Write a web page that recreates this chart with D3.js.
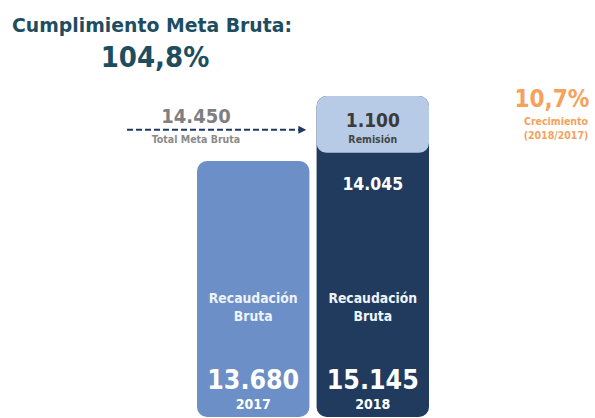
<!DOCTYPE html>
<html><head><meta charset="utf-8">
<script src="https://cdn.jsdelivr.net/npm/d3@7"></script>
<style>body{margin:0;background:#fff}svg{display:block}text{font-family:"DejaVu Sans Condensed","DejaVu Sans",sans-serif;font-stretch:condensed;font-weight:700}</style>
</head><body>
<svg id="c" width="595" height="418"></svg>
<script>
const years = ["2017", "2018"];
const recaudacion = [13680, 14045];
const remision = [0, 1100];
const totalBruta = [13680, 15145];
const metaBruta = 14450;
const cumplimiento = "104,8%";
const crecimiento = "10,7%";

const loc = d3.formatLocale({decimal: ",", thousands: ".", grouping: [3], currency: ["", ""]});
const fmt = loc.format(",d");

const svg = d3.select("#c");
const x = d3.scaleBand().domain(years).range([197, 429]).paddingInner(0.06).paddingOuter(0);
const y = d3.scaleLinear().domain([7933, 15145]).range([416, 96]);
const bottom = 417;
const bw = x.bandwidth();

// title
svg.append("text").attr("x", 12).attr("y", 32).attr("font-size", 20).attr("fill", "#1e4d60")
  .attr("textLength", 280).attr("lengthAdjust", "spacingAndGlyphs").text("Cumplimiento Meta Bruta:");
svg.append("text").attr("x", 155).attr("y", 67).attr("text-anchor", "middle").attr("font-size", 29).attr("fill", "#1e4d60")
  .text(cumplimiento);

// bars
const colors = ["#6b8fc6", "#213b5e"];
years.forEach((yr, i) => {
  svg.append("rect").attr("x", x(yr)).attr("y", y(totalBruta[i])).attr("width", bw)
    .attr("height", bottom - y(totalBruta[i])).attr("rx", 10).attr("fill", colors[i]);
});
// remision box
const yr18 = years[1];
svg.append("rect").attr("x", x(yr18)).attr("y", y(totalBruta[1])).attr("width", bw)
  .attr("height", y(recaudacion[1]) - y(totalBruta[1]) + 8).attr("rx", 10).attr("fill", "#b8cbe6");

// remision labels
const cx18 = x(yr18) + bw / 2;
svg.append("text").attr("x", cx18).attr("y", 127).attr("text-anchor", "middle").attr("font-size", 19).attr("fill", "#3b3b3b").text(fmt(remision[1]));
svg.append("text").attr("x", cx18).attr("y", 143).attr("text-anchor", "middle").attr("font-size", 10.5).attr("fill", "#444").text("Remisión");
svg.append("text").attr("x", cx18).attr("y", 190).attr("text-anchor", "middle").attr("font-size", 17.5).attr("fill", "#fff").text(fmt(recaudacion[1]));

years.forEach((yr, i) => {
  const cx = x(yr) + bw / 2;
  svg.append("text").attr("x", cx).attr("y", 303).attr("text-anchor", "middle").attr("font-size", 13.8).attr("fill", "#eef3fa").text("Recaudación");
  svg.append("text").attr("x", cx).attr("y", 321).attr("text-anchor", "middle").attr("font-size", 13.8).attr("fill", "#eef3fa").text("Bruta");
  svg.append("text").attr("x", cx).attr("y", 389).attr("text-anchor", "middle").attr("font-size", 26.5).attr("fill", "#fff").text(fmt(totalBruta[i]));
  svg.append("text").attr("x", cx).attr("y", 409).attr("text-anchor", "middle").attr("font-size", 14).attr("fill", "#fff").text(yr);
});

// meta arrow
const ym = y(metaBruta) + 3;
svg.append("defs").append("marker").attr("id", "ah").attr("viewBox", "0 0 10 10").attr("refX", 2).attr("refY", 5)
  .attr("markerWidth", 4).attr("markerHeight", 4.4).attr("orient", "auto")
  .append("path").attr("d", "M0,0L10,5L0,10Z").attr("fill", "#1f3864");
svg.append("line").attr("x1", 127).attr("x2", 300).attr("y1", ym).attr("y2", ym)
  .attr("stroke", "#1f3864").attr("stroke-width", 2).attr("stroke-dasharray", "6,3").attr("marker-end", "url(#ah)");
svg.append("text").attr("x", 196).attr("y", 123).attr("text-anchor", "middle").attr("font-size", 20).attr("fill", "#7f7f7f").text(fmt(metaBruta));
svg.append("text").attr("x", 196).attr("y", 143).attr("text-anchor", "middle").attr("font-size", 10.5).attr("fill", "#8a8a8a").text("Total Meta Bruta");

// crecimiento
svg.append("text").attr("x", 552).attr("y", 107).attr("text-anchor", "middle").attr("font-size", 24).attr("fill", "#f4a25c").text(crecimiento);
svg.append("text").attr("x", 556).attr("y", 125).attr("text-anchor", "middle").attr("font-size", 10.5).attr("fill", "#f4a25c").text("Crecimiento");
svg.append("text").attr("x", 556).attr("y", 139).attr("text-anchor", "middle").attr("font-size", 10.5).attr("fill", "#f4a25c").text("(2018/2017)");
</script>
</body></html>
